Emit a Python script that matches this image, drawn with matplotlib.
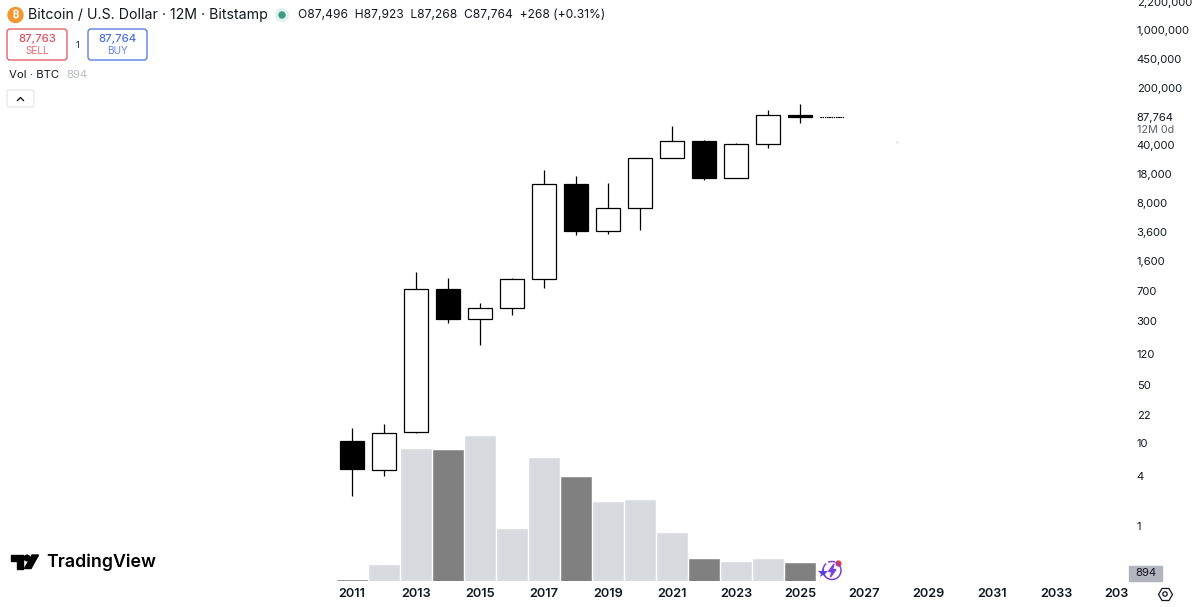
import matplotlib
matplotlib.use("Agg")
import matplotlib.pyplot as plt
import numpy as np
from matplotlib.patches import Circle, FancyBboxPatch, Polygon, Rectangle
from matplotlib.transforms import Bbox

plt.rcParams['font.family'] = ['Inter', 'DejaVu Sans']

# yearly candles
years = [2011, 2012, 2013, 2014, 2015, 2016, 2017, 2018, 2019, 2020, 2021, 2022, 2023, 2024, 2025, 2026]
opens = [10.6, 4.7, 13.6, 731, 317, 431, 967, 13650, 3690, 7000, 28200, 45300, 16150, 41700, 93500, 87496]
highs = [15.2, 17, 1175, 995, 495, 995, 20200, 17060, 14050, 28200, 68900, 46600, 42700, 107700, 127000, 87923]
lows = [2.28, 4.0, 13.2, 284, 154, 355, 753, 3300, 3390, 3790, 28200, 15270, 16150, 37200, 74800, 87268]
closes = [4.8, 13.2, 731, 317, 431, 967, 13650, 3690, 7000, 28200, 45300, 16150, 41700, 93500, 87500, 87764]
# volume in thousands of BTC, the scale itself is not shown on the chart
volumes = [20, 320, 2640, 2620, 2900, 1040, 2460, 2080, 1580, 1620, 960, 440, 380, 440, 360, 0.894]

price_ticks = [1, 4, 10, 22, 50, 120, 300, 700, 1600, 3600, 8000, 18000, 40000, 87764, 200000, 450000, 1000000, 2200000]
year_ticks = [2011, 2013, 2015, 2017, 2019, 2021, 2023, 2025, 2027, 2029, 2031, 2033, 2035]

INK = '#131722'
UP_VOL = '#d9dae0'
DOWN_VOL = '#808080'

fig = plt.figure(figsize=(12, 6.07), dpi=100, facecolor='white')
ax = fig.add_axes([0, 26 / 607, 1130 / 1200, 581 / 607])
vol_ax = ax.twinx()
ax.set_zorder(2)
ax.patch.set_visible(False)

# volume underneath the candles
is_down = [c < o for o, c in zip(opens, closes)]
vol_colors = [DOWN_VOL if d else UP_VOL for d in is_down]
vol_ax.bar(years, volumes, width=0.96, color=vol_colors, edgecolor=vol_colors, linewidth=0.4)
vol_ax.set_ylim(0, 11620)
vol_ax.set_yticks([])

# candles
ax.set_yscale('log')
ax.vlines(years, lows, highs, color='black', linewidth=0.9, zorder=2)
bottoms = [min(o, c) for o, c in zip(opens, closes)]
heights = [abs(c - o) for o, c in zip(opens, closes)]
faces = ['black' if d else 'white' for d in is_down]
bodies = ax.bar(years, heights, bottom=bottoms, width=0.78, color=faces, edgecolor='black', linewidth=0.9, zorder=3)
bodies[-1].set_linestyle((0, (1, 1)))
bodies[-1].set_linewidth(0.8)

ax.set_xlim(2000, 2035.3125)
ax.set_ylim(0.2134, 2307500)
ax.yaxis.tick_right()
ax.yaxis.set_label_position('right')
ax.set_yticks(price_ticks)
ax.set_yticklabels([f'{v:,}' for v in price_ticks])
ax.minorticks_off()
ax.set_xticks(year_ticks)
ax.set_xticklabels([str(y) for y in year_ticks], fontweight='semibold')
ax.tick_params(axis='y', length=0, pad=4.8, labelsize=8.1, labelcolor=INK)
ax.tick_params(axis='x', length=0, pad=5.2, labelsize=9.2, labelcolor=INK)
for lab in ax.get_xticklabels():
    lab.set_clip_box(Bbox([[0, 0], [1127.5, 607]]))
    lab.set_clip_on(True)
for a in (ax, vol_ax):
    for s in a.spines.values():
        s.set_visible(False)

# overlay in pixel coordinates for the TradingView header and icons
ov = fig.add_axes([0, 0, 1, 1], zorder=5)
ov.set_xlim(0, 1200)
ov.set_ylim(607, 0)
ov.axis('off')

ov.add_patch(Circle((15.5, 15), 7.5, color='#f2962f'))
ov.text(15.5, 15.5, '\u20bf', color='white', fontsize=7, ha='center', va='center', fontweight='bold')
ov.text(28, 15, 'Bitcoin / U.S. Dollar · 12M · Bitstamp', color=INK, fontsize=10.2, va='center')
ov.add_patch(Circle((282, 15), 6.5, color='#e3f1ee'))
ov.add_patch(Circle((282, 15), 3, color='#3c9a85'))
ov.text(298, 15, 'O87,496  H87,923  L87,268  C87,764  +268 (+0.31%)', color=INK, fontsize=8.65, va='center')

for x0, w, col, price, side in [(7, 60, '#e2505b', '87,763', 'SELL'), (88, 59, '#4a6fe3', '87,764', 'BUY')]:
    ov.add_patch(FancyBboxPatch((x0 + 3, 32), w - 6, 25, boxstyle='round,pad=3', facecolor='white', edgecolor=col, linewidth=0.9))
    ov.text(x0 + w / 2, 38.5, price, color=col, fontsize=8.2, ha='center', va='center', fontweight='medium')
    ov.text(x0 + w / 2, 51.5, side, color=col, fontsize=7.2, ha='center', va='center', alpha=0.85)
ov.text(77, 45, '1', color=INK, fontsize=6.5, ha='center', va='center')

ov.text(9, 75, 'Vol · BTC', color=INK, fontsize=8.2, va='center')
ov.text(66, 75, '894', color='#b8bbc2', fontsize=8.2, va='center')
ov.add_patch(FancyBboxPatch((9, 92), 23, 13, boxstyle='round,pad=2', facecolor='white', edgecolor='#e0e3eb', linewidth=0.8))
ov.plot([17.5, 20.5, 23.5], [100.5, 97.5, 100.5], color=INK, linewidth=1.0)

# TradingView logo
ov.add_patch(Polygon([(11, 555), (23, 555), (23, 568.5), (17, 568.5), (17, 560.5), (11, 560.5)], color='black'))
ov.add_patch(Circle((27, 558), 2.8, color='black'))
ov.add_patch(Polygon([(32, 555), (38.5, 555), (31, 568.5), (24.5, 568.5)], color='black'))
ov.text(46, 562, 'TradingView', color='black', fontsize=12.8, fontweight='semibold', va='center')

# price axis extras
ov.text(1137, 130, '12M 0d', color='#5d606b', fontsize=7.8, va='center')
ov.add_patch(Rectangle((1129, 566), 33, 15, color='#b2b5be'))
ov.text(1146, 573.5, '894', color=INK, fontsize=8.2, ha='center', va='center')
ov.plot([1165], [594], marker='H', markersize=10, markerfacecolor='white', markeredgecolor=INK, markeredgewidth=0.9)
ov.add_patch(Circle((1165, 594), 2.2, facecolor='white', edgecolor=INK, linewidth=0.9, zorder=4))
ov.plot([897], [142], marker='.', markersize=0.8, color='#cfcfcf')

# assistant badge next to the last bar
theta = np.radians(np.arange(-60, 230, 5))
ov.plot(832 + 9 * np.cos(theta), 570.5 + 9 * np.sin(theta), color='#7d3fd8', linewidth=1.1)
theta = np.radians(np.arange(250, 290, 5))
ov.plot(832 + 9 * np.cos(theta), 570.5 + 9 * np.sin(theta), color='#7d3fd8', linewidth=1.1)
ov.add_patch(Polygon([(834, 564), (828.5, 571.5), (832, 571.5), (830.5, 577), (836, 569.5), (832.5, 569.5)], color='#7d3fd8'))
ov.plot([822.5], [573], marker='*', markersize=7, color='#5b3fe0', markeredgewidth=0)
ov.add_patch(Circle((838.5, 563.5), 2.4, color='#e23b43'))

fig.savefig('out.png', dpi=100)
